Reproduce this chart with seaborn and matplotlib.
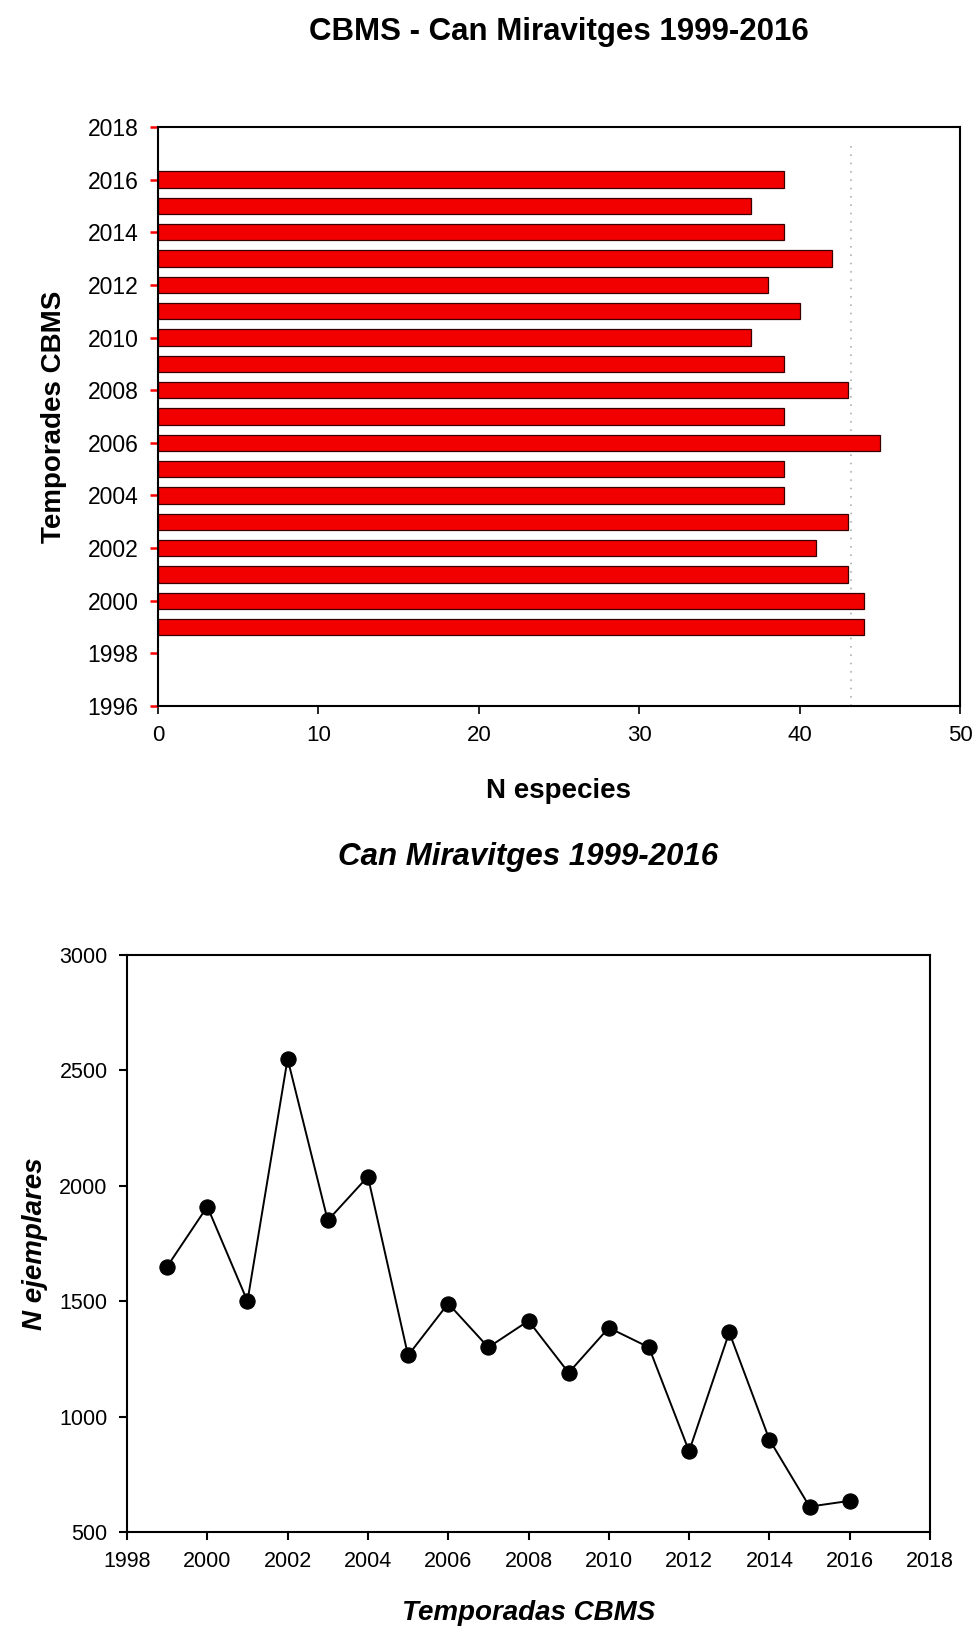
import numpy as np
import pandas as pd
import seaborn as sns
import matplotlib.pyplot as plt

# Temporadas CBMS - Can Miravitges
anys = [1999, 2000, 2001, 2002, 2003, 2004, 2005, 2006, 2007,
        2008, 2009, 2010, 2011, 2012, 2013, 2014, 2015, 2016]
n_especies = [44, 44, 43, 41, 43, 39, 39, 45, 39,
              43, 39, 37, 40, 38, 42, 39, 37, 39]
n_ejemplares = [1650, 1910, 1500, 2550, 1850, 2040, 1265, 1490, 1300,
                1415, 1190, 1385, 1300, 850, 1365, 900, 610, 635]
linia_ref = 43.2  # linia de punts grisa

df = pd.DataFrame({"any": anys, "especies": n_especies, "ejemplares": n_ejemplares})

sns.set_style("ticks")
plt.rcParams['font.family'] = ['Liberation Sans', 'DejaVu Sans']
plt.rcParams['text.color'] = 'black'
plt.rcParams['axes.labelcolor'] = 'black'
plt.rcParams['xtick.color'] = 'black'
plt.rcParams['ytick.color'] = 'black'

fig = plt.figure(figsize=(9.76, 16.28), dpi=100)
W, H = 976, 1628
ax1 = fig.add_axes([158 / W, 1 - 706 / H, (960 - 158) / W, (706 - 127) / H])
ax2 = fig.add_axes([127 / W, 1 - 1532 / H, (930 - 127) / W, (1532 - 955) / H])

# --- grafic de barres ---
sns.barplot(data=df, x="especies", y="any", orient="h", native_scale=True,
            width=0.62, color="#f20000", saturation=1, edgecolor="#3a0000",
            linewidth=0.9, ax=ax1)
ax1.axvline(linia_ref, ymax=0.97, color="#b0b0b0", linestyle=(0, (1, 4)), linewidth=1.2, zorder=0)
ax1.set_xlim(0, 50)
ax1.set_ylim(1996, 2018)
ax1.set_xticks(range(0, 51, 10))
ax1.set_yticks(range(1996, 2019, 2))
ax1.tick_params(axis="y", colors="red", labelcolor="black", length=6, width=1.8,
                labelsize=16.5, pad=8)
ax1.tick_params(axis="x", length=6, width=1.2, labelsize=16, pad=8)
ax1.set_xlabel("N especies", fontsize=20, fontweight="bold", labelpad=23)
ax1.set_ylabel("Temporades CBMS", fontsize=20, fontweight="bold", labelpad=15)
for s in ax1.spines.values():
    s.set_visible(True)
    s.set_linewidth(1.5)
    s.set_color("black")

# --- grafic de linia ---
sns.lineplot(data=df, x="any", y="ejemplares", color="black", marker="o",
             markersize=11, markeredgecolor="black", linewidth=1.4, ax=ax2)
ax2.set_xlim(1998, 2018)
ax2.set_ylim(500, 3000)
ax2.set_xticks(range(1998, 2019, 2))
ax2.set_yticks(range(500, 3001, 500))
ax2.tick_params(length=6, width=1.5, labelsize=15.5, pad=8)
ax2.set_xlabel("Temporadas CBMS", fontsize=20, fontweight="bold", style="italic", labelpad=20)
ax2.set_ylabel("N ejemplares", fontsize=20, fontweight="bold", style="italic", labelpad=8)
for s in ax2.spines.values():
    s.set_visible(True)
    s.set_linewidth(1.5)
    s.set_color("black")

fig.text(559 / W, 1 - 32 / H, "CBMS - Can Miravitges 1999-2016", ha="center", va="center",
         fontsize=22.5, fontweight="bold")
fig.text(528 / W, 1 - 857 / H, "Can Miravitges 1999-2016", ha="center", va="center",
         fontsize=22.5, fontweight="bold", style="italic")

fig.savefig("out.png", dpi=100)
